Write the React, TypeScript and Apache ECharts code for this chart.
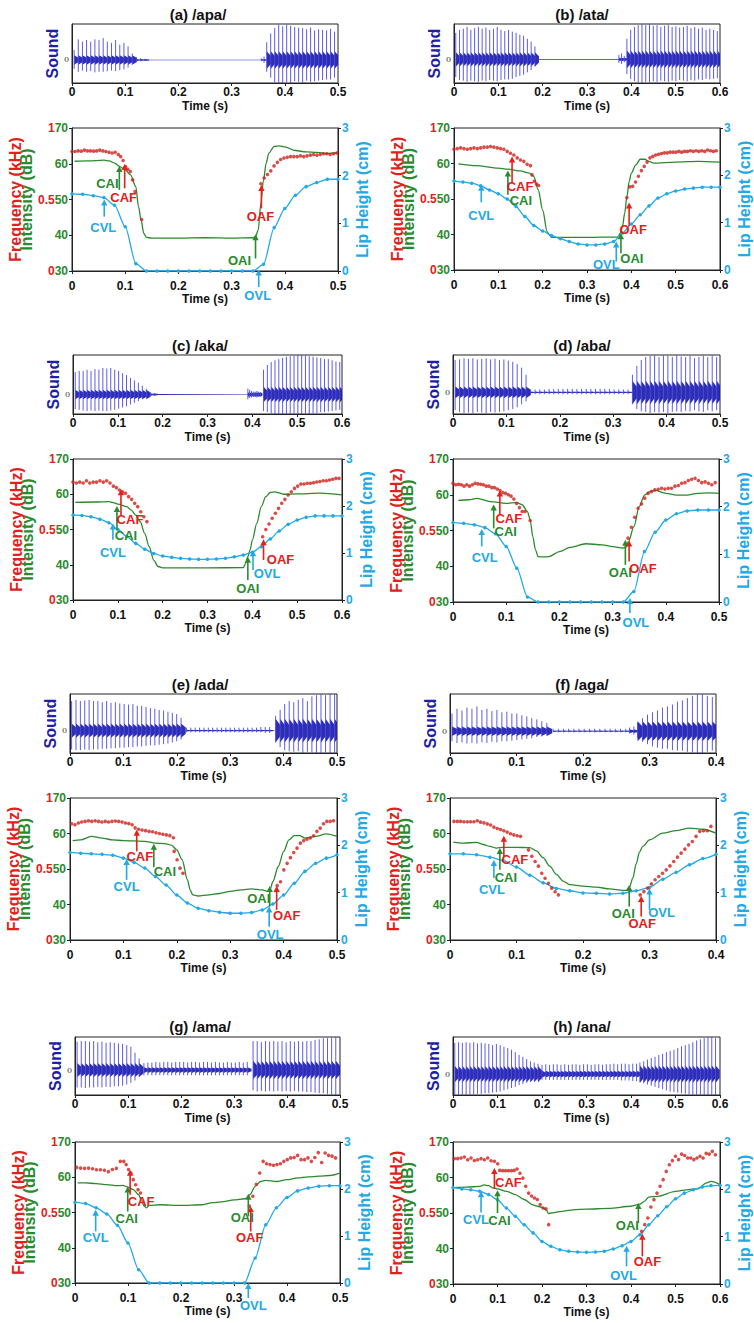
import React, { useEffect, useRef } from "react";
import * as echarts from "echarts";

type Seg = { t0: number; dt: number; v: number[] };
type Pulse = { t0: number; p: number; core: number; hi: number[]; lo: number[] };
type Ann = { n: string; ax: "i" | "f" | "l"; t: number; tip: number; tail: number };

// ---------------- DATA ----------------
const TITLES = ["(a) /apa/", "(b) /ata/", "(c) /aka/", "(d) /aba/", "(e) /ada/", "(f) /aga/", "(g) /ama/", "(h) /ana/"];
const XMAX = [0.5, 0.6, 0.6, 0.5, 0.5, 0.4, 0.5, 0.6];
const INT_TICKS = [30, 40, 50, 60, 70];
const FREQ_TICK_LABELS: Record<number, string> = { 30: "0", 50: "0.5", 70: "1" };
const LIP_TICKS = [0, 1, 2, 3];
const SND_ZERO = [0.39, 0.4, 0.33, 0.365, 0.38, 0.37, 0.43, 0.36];

// intensity (dB) curves
const A_INT = [[0.005,60.7],[0.03,60.8],[0.06,61.0],[0.07,60.8],[0.08,60.2],[0.09,59.2],[0.1,58.3],[0.11,56.9],[0.12,53.6],[0.125,48],[0.13,44.2],[0.135,40.5],[0.14,39.4],[0.15,39.2],[0.2,39.2],[0.25,39.3],[0.3,39.2],[0.34,39.3],[0.345,39.6],[0.35,41.4],[0.355,48.9],[0.36,55.5],[0.365,60.2],[0.37,63],[0.38,64.85],[0.39,65],[0.4,64.7],[0.42,63.7],[0.44,63.3],[0.46,63.2],[0.48,62.9],[0.5,63.2]];
const B_INT = [[0.01,59.9],[0.05,59.4],[0.1,58.7],[0.12,58.4],[0.15,57.9],[0.17,57.3],[0.18,56.4],[0.19,52.6],[0.2,46.9],[0.21,40.8],[0.215,39.9],[0.22,39.2],[0.3,39.2],[0.37,39.3],[0.375,40.4],[0.38,42.2],[0.385,46],[0.39,50.7],[0.395,54.9],[0.4,57.3],[0.41,59.6],[0.42,61.2],[0.43,61.2],[0.44,60.6],[0.45,60.1],[0.5,60.4],[0.55,60.6],[0.6,60.4]];
const C_INT = [[0.005,57.7],[0.05,57.8],[0.08,57.9],[0.09,57.6],[0.1,57.2],[0.12,56.5],[0.13,55.5],[0.14,54.1],[0.15,52.2],[0.16,48.9],[0.17,45.1],[0.18,41.3],[0.19,39.5],[0.2,39.1],[0.3,39.1],[0.38,39.2],[0.385,40.4],[0.39,42.3],[0.395,44.2],[0.4,47],[0.41,51.8],[0.42,56.5],[0.43,59.3],[0.44,60.5],[0.45,60.7],[0.46,60.4],[0.47,60],[0.5,60.1],[0.55,60.3],[0.6,59.8]];
const D_INT = [[0.01,58.4],[0.03,58.6],[0.045,59.0],[0.07,58.1],[0.1,57.6],[0.12,57.8],[0.13,57.2],[0.14,55.3],[0.145,53],[0.15,48.3],[0.155,44.6],[0.16,42.7],[0.17,42.6],[0.18,42.7],[0.2,44.1],[0.22,45.3],[0.25,46.3],[0.28,46],[0.3,45.5],[0.32,45.1],[0.325,45.3],[0.33,46.9],[0.34,51.1],[0.35,56.7],[0.36,59.9],[0.37,60.9],[0.38,61.2],[0.4,60.4],[0.42,59.9],[0.44,59.9],[0.46,60.4],[0.48,60.5],[0.5,60.4]];
const E_INT = [[0.005,58],[0.02,58.2],[0.04,59.2],[0.06,58.7],[0.08,58.2],[0.1,58],[0.14,57.8],[0.16,57.3],[0.18,57.1],[0.19,56.7],[0.2,55.4],[0.21,52.6],[0.22,46.9],[0.225,44.1],[0.23,42.7],[0.24,42.4],[0.26,42.7],[0.28,43.1],[0.3,43.7],[0.32,44.1],[0.34,44.4],[0.36,44.1],[0.37,43.7],[0.375,44.4],[0.38,46.5],[0.39,50.7],[0.4,54.9],[0.41,58.2],[0.42,59.4],[0.43,59.4],[0.44,58.7],[0.46,59.2],[0.48,59.9],[0.5,59.2]];
const F_INT = [[0.005,57.6],[0.02,57.3],[0.04,57.5],[0.05,56.9],[0.06,56.35],[0.07,55.9],[0.08,56.1],[0.1,56.1],[0.12,56],[0.13,55.1],[0.14,53.2],[0.15,50.8],[0.16,48.5],[0.17,46.6],[0.18,45.6],[0.2,45.2],[0.22,44.9],[0.24,44.4],[0.26,44],[0.265,44],[0.27,45.0],[0.275,47.5],[0.28,51.5],[0.285,54.8],[0.29,56.4],[0.3,58.2],[0.32,60.1],[0.34,60.8],[0.36,61.5],[0.38,61.2],[0.4,60.1]];
const G_INT = [[0.005,58.4],[0.02,58.4],[0.04,58.2],[0.06,57.9],[0.08,57.6],[0.09,57.7],[0.1,57.2],[0.11,56.5],[0.12,55.05],[0.125,53.6],[0.13,51.9],[0.135,51.3],[0.14,52],[0.16,52.2],[0.2,52],[0.24,52.2],[0.26,52.8],[0.28,53.1],[0.3,53.6],[0.32,53.9],[0.325,54.1],[0.33,55.05],[0.34,57.4],[0.35,58.8],[0.36,59.1],[0.38,58.8],[0.4,59.3],[0.42,59.8],[0.44,60.1],[0.46,60.3],[0.48,60.5],[0.5,61.2]];
const H_INT = [[0.005,57.2],[0.03,57.3],[0.06,57.5],[0.07,57.9],[0.08,57.7],[0.09,57.1],[0.1,56.8],[0.12,56.1],[0.14,55.2],[0.16,53.8],[0.18,52.3],[0.19,51.9],[0.2,51.6],[0.21,50.8],[0.215,49.8],[0.22,50],[0.24,50.4],[0.27,50.9],[0.3,51.1],[0.35,51.3],[0.4,51.9],[0.42,52.5],[0.43,53.3],[0.44,54.5],[0.46,54.7],[0.5,56.1],[0.53,56.6],[0.55,56.8],[0.57,58.5],[0.58,58.9],[0.6,58]];

// lip height (cm), sampled every 20 ms
const A_LIP: Seg = { t0: 0, dt: 0.02, v: [1.62,1.61,1.58,1.54,1.38,0.93,0.155,0,0,0,0,0,0,0,0,0,0,0,0.14,0.91,1.31,1.59,1.77,1.855,1.925,1.925] };
const B_LIP: Seg = { t0: 0, dt: 0.02, v: [1.885,1.86,1.835,1.78,1.69,1.61,1.5,1.34,1.13,0.94,0.826,0.73,0.66,0.6,0.55,0.53,0.53,0.55,0.6,0.78,0.97,1.165,1.355,1.52,1.61,1.67,1.71,1.73,1.75,1.75,1.75] };
const C_LIP: Seg = { t0: 0, dt: 0.02, v: [1.81,1.8,1.77,1.72,1.645,1.5,1.35,1.205,1.08,0.99,0.936,0.91,0.887,0.872,0.865,0.865,0.872,0.887,0.92,0.957,1.014,1.135,1.3,1.47,1.61,1.7,1.76,1.79,1.79,1.79,1.79] };
const D_LIP: Seg = { t0: 0, dt: 0.02, v: [1.67,1.65,1.62,1.56,1.43,1.165,0.71,0.105,0,0,0,0,0,0,0,0,0,0.22,1.06,1.465,1.72,1.85,1.91,1.93,1.93,1.93] };
const E_LIP: Seg = { t0: 0, dt: 0.02, v: [1.85,1.835,1.82,1.81,1.79,1.73,1.64,1.52,1.34,1.16,0.95,0.78,0.67,0.62,0.586,0.565,0.565,0.58,0.635,0.76,0.95,1.2,1.45,1.62,1.73,1.8] };
const F_LIP: Seg = { t0: 0, dt: 0.02, v: [1.82,1.82,1.8,1.75,1.68,1.54,1.37,1.21,1.09,1.04,0.995,0.988,0.974,0.988,1.04,1.11,1.285,1.43,1.59,1.72,1.81] };
const G_LIP: Seg = { t0: 0, dt: 0.02, v: [1.72,1.69,1.6,1.47,1.23,0.85,0.284,0,0,0,0,0,0,0,0,0,0,0.53,1.24,1.6,1.82,1.96,2.02,2.06,2.07,2.07] };
const H_LIP: Seg = { t0: 0, dt: 0.02, v: [2.04,2.01,1.99,1.96,1.89,1.78,1.605,1.43,1.25,1.08,0.9,0.796,0.725,0.69,0.676,0.669,0.676,0.69,0.74,0.81,0.9,1.04,1.25,1.44,1.63,1.8,1.92,1.99,2.05,2.08,2.085] };

// frequency (kHz, 0..1), pitch-period samples
const A_FREQ: Seg[] = [
  { t0: 0, dt: 0.0058, v: [0.836,0.836,0.84,0.838,0.845,0.84,0.84,0.838,0.84,0.845,0.84,0.836,0.83,0.825,0.83] },
  { t0: 0.087, dt: 0.0045, v: [0.815,0.8,0.773,0.73,0.712,0.695,0.637,0.555] },
  { t0: 0.131, dt: 0.01, v: [0.36] },
  { t0: 0.355, dt: 0.0062, v: [0.61,0.65,0.675,0.7,0.735,0.76,0.78,0.79,0.795,0.8,0.8,0.8,0.805,0.8,0.805,0.81,0.815,0.81,0.815,0.82,0.82,0.815,0.82,0.825] },
];
const B_FREQ: Seg[] = [
  { t0: 0, dt: 0.0075, v: [0.85,0.855,0.86,0.855,0.85,0.855,0.86,0.855,0.86,0.865,0.865,0.87,0.865,0.86,0.855,0.85] },
  { t0: 0.12, dt: 0.0075, v: [0.835,0.822,0.81,0.79,0.775,0.765,0.745,0.735] },
  { t0: 0.176, dt: 0.005, v: [0.67,0.625,0.605,0.595] },
  { t0: 0.39, dt: 0.0065, v: [0.51,0.585,0.59,0.62,0.66,0.7,0.73,0.76,0.79,0.8,0.81,0.815,0.82,0.825,0.825,0.83,0.83,0.83,0.835,0.83,0.835,0.835,0.84,0.835,0.84,0.835,0.84,0.835,0.845,0.84,0.835,0.84] },
];
const C_FREQ: Seg[] = [
  { t0: 0, dt: 0.0075, v: [0.836,0.83,0.836,0.83,0.846,0.83,0.836,0.836,0.846,0.836,0.846,0.83] },
  { t0: 0.09, dt: 0.0068, v: [0.808,0.797,0.78,0.768,0.757,0.733,0.714,0.686,0.662,0.626,0.59,0.556] },
  { t0: 0.423, dt: 0.0071, v: [0.449,0.5,0.539,0.58,0.615,0.65,0.686,0.714,0.745,0.768,0.792,0.808,0.823,0.823,0.828,0.828,0.832,0.837,0.84,0.846,0.846,0.851,0.856,0.863,0.863] },
];
const D_FREQ: Seg[] = [
  { t0: 0, dt: 0.0052, v: [0.83,0.82,0.823,0.82,0.81,0.82,0.81,0.82,0.83,0.826,0.823,0.82,0.81,0.81,0.8,0.8,0.79,0.78,0.765,0.76,0.75,0.74,0.72,0.69,0.66,0.633,0.633] },
  { t0: 0.145, dt: 0.01, v: [0.57] },
  { t0: 0.329, dt: 0.0063, v: [0.447,0.523,0.593,0.656,0.686,0.726,0.76,0.772,0.784,0.788,0.795,0.79,0.795,0.795,0.81,0.815,0.83,0.835,0.85,0.858,0.865,0.85,0.835,0.84,0.83,0.82,0.835] },
];
const E_FREQ: Seg[] = [
  { t0: 0.003, dt: 0.0063, v: [0.819,0.812,0.824,0.831,0.835,0.84,0.835,0.84,0.835,0.831,0.835,0.831,0.835,0.838,0.835,0.831,0.824,0.82,0.812] },
  { t0: 0.122, dt: 0.0065, v: [0.79,0.78,0.775,0.77,0.765,0.762,0.755,0.75,0.745,0.74,0.735,0.72] },
  { t0: 0.195, dt: 0.0055, v: [0.624,0.565,0.506,0.47] },
  { t0: 0.388, dt: 0.0062, v: [0.383,0.41,0.494,0.54,0.58,0.616,0.647,0.682,0.7,0.71,0.718,0.734,0.765,0.788,0.819,0.835,0.835,0.84] },
];
const F_FREQ: Seg[] = [
  { t0: 0.006, dt: 0.005, v: [0.835,0.835,0.835,0.833,0.833,0.833,0.833,0.84,0.83,0.825,0.818,0.81,0.795,0.785,0.778,0.769,0.76,0.748,0.74,0.734,0.73] },
  { t0: 0.118, dt: 0.005, v: [0.635,0.59,0.553,0.52,0.47,0.435,0.4,0.365,0.34,0.318] },
  { t0: 0.286, dt: 0.0056, v: [0.318,0.341,0.365,0.395,0.424,0.447,0.47,0.494,0.522,0.553,0.584,0.612,0.64,0.67,0.694,0.73,0.765,0.769,0.769,0.8] },
];
const G_FREQ: Seg[] = [
  { t0: 0.003, dt: 0.0075, v: [0.82,0.815,0.813,0.815,0.81,0.803,0.803,0.8,0.79,0.805,0.813,0.863] },
  { t0: 0.092, dt: 0.0045, v: [0.863,0.84,0.805,0.78,0.733,0.697,0.662,0.638] },
  { t0: 0.329, dt: 0.0065, v: [0.545,0.615,0.7,0.78,0.863,0.846,0.84,0.835,0.84,0.846,0.863,0.875,0.887,0.89,0.905,0.875,0.875,0.887,0.863,0.89,0.925,0.855,0.922,0.905,0.9,0.887] },
];
const H_FREQ: Seg[] = [
  { t0: 0.003, dt: 0.0075, v: [0.883,0.883,0.887,0.894,0.875,0.887,0.87,0.875,0.883,0.875,0.887,0.868,0.864,0.847] },
  { t0: 0.105, dt: 0.0065, v: [0.8,0.798,0.798,0.798,0.798,0.8,0.81,0.78,0.746,0.688,0.64,0.62,0.606,0.595,0.56,0.535,0.53] },
  { t0: 0.215, dt: 0.01, v: [0.418] },
  { t0: 0.424, dt: 0.0069, v: [0.371,0.418,0.465,0.542,0.594,0.64,0.688,0.735,0.793,0.84,0.869,0.9,0.876,0.915,0.905,0.887,0.887,0.876,0.887,0.9,0.887,0.92,0.915,0.934,0.91] },
];

// sound waveform: pulse trains (peak heights in box-height units around zero)
const A_SND: Pulse[] = [
  { t0: 0.004, p: 0.0078, core: 0.08, hi: [0.17,0.35,0.31,0.34,0.31,0.35,0.34,0.37,0.31,0.29,0.34,0.26,0.29,0.23,0.11], lo: [-0.15,-0.2,-0.18,-0.2,-0.19,-0.21,-0.2,-0.2,-0.19,-0.18,-0.19,-0.17,-0.16,-0.13,-0.08] },
  { t0: 0.121, p: 0.0078, core: 0.015, hi: [0.05,0.03,0.02], lo: [-0.04,-0.02,-0.01] },
  { t0: 0.144, p: 0.212, core: 0.006, hi: [0.006], lo: [-0.006] },
  { t0: 0.356, p: 0.005, core: 0.015, hi: [0.03,0.06], lo: [-0.02,-0.05] },
  { t0: 0.366, p: 0.0075, core: 0.15, hi: [0.3,0.45,0.54,0.6,0.57,0.6,0.58,0.56,0.55,0.54,0.52,0.55,0.5,0.52,0.51,0.5,0.53,0.48], lo: [-0.2,-0.3,-0.38,-0.39,-0.39,-0.38,-0.39,-0.36,-0.37,-0.39,-0.35,-0.37,-0.36,-0.35,-0.34,-0.33,-0.33,-0.3] },
];
const B_SND: Pulse[] = [
  { t0: 0.004, p: 0.0085, core: 0.12, hi: [0.45,0.5,0.52,0.55,0.5,0.53,0.55,0.52,0.54,0.5,0.52,0.55,0.5,0.48,0.5,0.47,0.45,0.42,0.4,0.35,0.3,0.22], lo: [-0.3,-0.35,-0.36,-0.38,-0.36,-0.37,-0.38,-0.36,-0.37,-0.35,-0.36,-0.37,-0.35,-0.34,-0.34,-0.33,-0.3,-0.28,-0.26,-0.22,-0.18,-0.12] },
  { t0: 0.19, p: 0.182, core: 0.006, hi: [0.01], lo: [-0.01] },
  { t0: 0.372, p: 0.006, core: 0.03, hi: [0.08,0.1,0.06], lo: [-0.06,-0.08,-0.05] },
  { t0: 0.39, p: 0.0085, core: 0.15, hi: [0.35,0.5,0.55,0.58,0.6,0.58,0.6,0.57,0.58,0.55,0.57,0.58,0.55,0.56,0.54,0.55,0.57,0.53,0.55,0.52,0.54,0.5,0.52,0.5,0.48], lo: [-0.25,-0.33,-0.37,-0.39,-0.4,-0.38,-0.39,-0.37,-0.38,-0.36,-0.37,-0.38,-0.36,-0.37,-0.35,-0.36,-0.37,-0.35,-0.36,-0.34,-0.35,-0.33,-0.34,-0.33,-0.32] },
];
const C_SND: Pulse[] = [
  { t0: 0.005, p: 0.0088, core: 0.08, hi: [0.38,0.4,0.4,0.42,0.4,0.43,0.42,0.45,0.44,0.45,0.42,0.4,0.36,0.33,0.28,0.24,0.2,0.15,0.1], lo: [-0.25,-0.26,-0.27,-0.28,-0.27,-0.28,-0.27,-0.28,-0.28,-0.27,-0.26,-0.24,-0.22,-0.2,-0.17,-0.14,-0.11,-0.08,-0.05] },
  { t0: 0.172, p: 0.0088, core: 0.02, hi: [0.04,0.02], lo: [-0.03,-0.02] },
  { t0: 0.19, p: 0.2, core: 0.008, hi: [0.01], lo: [-0.01] },
  { t0: 0.39, p: 0.004, core: 0.04, hi: [0.1,0.08,0.06,0.05,0.05,0.06,0.05,0.04], lo: [-0.08,-0.06,-0.05,-0.04,-0.04,-0.05,-0.04,-0.03] },
  { t0: 0.425, p: 0.0085, core: 0.13, hi: [0.42,0.5,0.55,0.58,0.6,0.62,0.64,0.65,0.66,0.67,0.67,0.66,0.65,0.64,0.63,0.62,0.6,0.6,0.58,0.56,0.55], lo: [-0.28,-0.3,-0.32,-0.33,-0.33,-0.33,-0.33,-0.33,-0.33,-0.33,-0.33,-0.33,-0.33,-0.32,-0.32,-0.3,-0.3,-0.29,-0.28,-0.27,-0.26] },
];
const D_SND: Pulse[] = [
  { t0: 0.004, p: 0.0083, core: 0.1, hi: [0.55,0.56,0.58,0.57,0.58,0.56,0.57,0.58,0.56,0.57,0.55,0.56,0.54,0.52,0.48,0.42,0.3], lo: [-0.3,-0.33,-0.35,-0.34,-0.35,-0.33,-0.34,-0.35,-0.33,-0.34,-0.33,-0.32,-0.3,-0.28,-0.25,-0.2,-0.15] },
  { t0: 0.145, p: 0.0087, core: 0.015, hi: [0.05,0.05,0.05,0.05,0.06,0.06,0.06,0.06,0.06,0.06,0.06,0.06,0.06,0.06,0.06,0.06,0.06,0.06,0.05,0.05,0.05,0.05], lo: [-0.03,-0.03,-0.03,-0.03,-0.03,-0.03,-0.03,-0.03,-0.03,-0.03,-0.03,-0.03,-0.03,-0.03,-0.03,-0.03,-0.03,-0.03,-0.03,-0.03,-0.03,-0.03] },
  { t0: 0.336, p: 0.0083, core: 0.2, hi: [0.3,0.45,0.55,0.6,0.62,0.63,0.6,0.63,0.62,0.6,0.63,0.61,0.6,0.62,0.58,0.6,0.62,0.6,0.63,0.6], lo: [-0.2,-0.28,-0.32,-0.33,-0.35,-0.33,-0.34,-0.33,-0.35,-0.33,-0.32,-0.33,-0.31,-0.32,-0.3,-0.32,-0.33,-0.3,-0.32,-0.3] },
];
const E_SND: Pulse[] = [
  { t0: 0.003, p: 0.0082, core: 0.12, hi: [0.5,0.52,0.5,0.51,0.52,0.5,0.5,0.48,0.5,0.47,0.48,0.46,0.45,0.44,0.45,0.42,0.42,0.4,0.38,0.37,0.35,0.34,0.32,0.3,0.28,0.22], lo: [-0.32,-0.33,-0.33,-0.32,-0.33,-0.32,-0.32,-0.31,-0.31,-0.3,-0.3,-0.29,-0.29,-0.28,-0.28,-0.27,-0.27,-0.26,-0.25,-0.25,-0.24,-0.23,-0.22,-0.2,-0.18,-0.15] },
  { t0: 0.218, p: 0.0082, core: 0.015, hi: [0.05,0.05,0.05,0.05,0.05,0.05,0.05,0.05,0.05,0.05,0.05,0.05,0.05,0.05,0.05,0.05,0.05,0.06,0.06,0.06], lo: [-0.03,-0.03,-0.03,-0.03,-0.03,-0.03,-0.03,-0.03,-0.03,-0.03,-0.03,-0.03,-0.03,-0.03,-0.03,-0.03,-0.03,-0.03,-0.04,-0.04] },
  { t0: 0.385, p: 0.0085, core: 0.2, hi: [0.25,0.35,0.45,0.5,0.48,0.52,0.55,0.5,0.58,0.6,0.62,0.6,0.62,0.62], lo: [-0.2,-0.28,-0.33,-0.35,-0.36,-0.35,-0.38,-0.36,-0.37,-0.38,-0.38,-0.37,-0.38,-0.38] },
];
const F_SND: Pulse[] = [
  { t0: 0.003, p: 0.0075, core: 0.08, hi: [0.3,0.38,0.35,0.4,0.38,0.42,0.36,0.38,0.34,0.36,0.32,0.33,0.3,0.3,0.27,0.25,0.22,0.2,0.17,0.14], lo: [-0.17,-0.2,-0.19,-0.21,-0.2,-0.21,-0.19,-0.2,-0.18,-0.19,-0.17,-0.17,-0.16,-0.15,-0.14,-0.13,-0.12,-0.1,-0.09,-0.07] },
  { t0: 0.155, p: 0.0078, core: 0.012, hi: [0.04,0.04,0.04,0.04,0.04,0.04,0.04,0.04,0.04,0.04,0.04,0.04,0.04,0.04,0.04], lo: [-0.02,-0.02,-0.02,-0.02,-0.02,-0.02,-0.02,-0.02,-0.02,-0.02,-0.02,-0.02,-0.02,-0.02,-0.02] },
  { t0: 0.27, p: 0.0065, core: 0.03, hi: [0.06,0.08], lo: [-0.04,-0.06] },
  { t0: 0.282, p: 0.0075, core: 0.17, hi: [0.15,0.22,0.28,0.32,0.35,0.4,0.42,0.45,0.5,0.52,0.56,0.6,0.63,0.63,0.6,0.58], lo: [-0.12,-0.18,-0.22,-0.26,-0.28,-0.3,-0.3,-0.32,-0.33,-0.33,-0.35,-0.36,-0.37,-0.37,-0.35,-0.33] },
];
const G_SND: Pulse[] = [
  { t0: 0.004, p: 0.0078, core: 0.12, hi: [0.49,0.5,0.5,0.49,0.5,0.48,0.49,0.47,0.48,0.47,0.46,0.45,0.43,0.4,0.3,0.2], lo: [-0.3,-0.3,-0.31,-0.3,-0.3,-0.29,-0.3,-0.29,-0.29,-0.28,-0.28,-0.27,-0.25,-0.22,-0.18,-0.12] },
  { t0: 0.13, p: 0.0075, core: 0.05, hi: [0.12,0.13,0.13,0.14,0.13,0.14,0.14,0.13,0.14,0.14,0.14,0.13,0.14,0.14,0.13,0.14,0.14,0.13,0.14,0.13,0.13,0.14,0.13,0.13,0.14,0.13,0.14], lo: [-0.09,-0.09,-0.09,-0.09,-0.09,-0.09,-0.09,-0.09,-0.09,-0.09,-0.09,-0.09,-0.09,-0.09,-0.09,-0.09,-0.09,-0.09,-0.09,-0.09,-0.09,-0.09,-0.09,-0.09,-0.09,-0.09,-0.09] },
  { t0: 0.336, p: 0.0078, core: 0.16, hi: [0.5,0.5,0.48,0.5,0.49,0.5,0.49,0.5,0.48,0.5,0.49,0.5,0.49,0.5,0.5,0.52,0.53,0.55,0.55,0.56,0.57], lo: [-0.35,-0.37,-0.36,-0.37,-0.36,-0.37,-0.36,-0.37,-0.36,-0.37,-0.36,-0.37,-0.37,-0.38,-0.38,-0.39,-0.4,-0.4,-0.41,-0.42,-0.43] },
];
const H_SND: Pulse[] = [
  { t0: 0.004, p: 0.0085, core: 0.14, hi: [0.54,0.55,0.54,0.55,0.54,0.55,0.53,0.54,0.53,0.52,0.5,0.52,0.5,0.47,0.45,0.42,0.38,0.33,0.3,0.26,0.22,0.2,0.18], lo: [-0.36,-0.36,-0.35,-0.36,-0.35,-0.35,-0.34,-0.34,-0.33,-0.33,-0.32,-0.31,-0.3,-0.28,-0.26,-0.24,-0.22,-0.19,-0.17,-0.15,-0.13,-0.12,-0.11] },
  { t0: 0.2, p: 0.0085, core: 0.06, hi: [0.16,0.17,0.16,0.17,0.17,0.16,0.17,0.16,0.17,0.17,0.16,0.17,0.17,0.16,0.17,0.17,0.16,0.17,0.17,0.18,0.17,0.18,0.18,0.17,0.18,0.18], lo: [-0.1,-0.1,-0.1,-0.1,-0.1,-0.1,-0.1,-0.1,-0.1,-0.1,-0.1,-0.1,-0.1,-0.1,-0.1,-0.1,-0.1,-0.1,-0.1,-0.1,-0.1,-0.11,-0.11,-0.11,-0.12,-0.12] },
  { t0: 0.42, p: 0.0085, core: 0.15, hi: [0.2,0.22,0.25,0.28,0.3,0.33,0.35,0.38,0.4,0.42,0.45,0.48,0.5,0.52,0.55,0.58,0.6,0.62,0.64,0.64,0.62], lo: [-0.14,-0.16,-0.18,-0.2,-0.22,-0.24,-0.26,-0.28,-0.3,-0.31,-0.32,-0.33,-0.34,-0.35,-0.36,-0.36,-0.36,-0.36,-0.36,-0.36,-0.36] },
];

// annotation arrows (tip/tail in the units of their own axis)
const A_ANN: Ann[] = [
  { n: "CAI", ax: "i", t: 0.089, tip: 59.4, tail: 52.7 },
  { n: "CAF", ax: "f", t: 0.099, tip: 0.749, tail: 0.578 },
  { n: "CVL", ax: "l", t: 0.0606, tip: 1.5, tail: 1.14 },
  { n: "OAI", ax: "i", t: 0.345, tip: 40.3, tail: 33.5 },
  { n: "OAF", ax: "f", t: 0.356, tip: 0.602, tail: 0.438 },
  { n: "OVL", ax: "l", t: 0.351, tip: 0.03, tail: -0.337 },
];
const B_ANN: Ann[] = [
  { n: "CAF", ax: "f", t: 0.131, tip: 0.8, tail: 0.61 },
  { n: "CAI", ax: "i", t: 0.1215, tip: 58.05, tail: 51.2 },
  { n: "CVL", ax: "l", t: 0.0615, tip: 1.8, tail: 1.43 },
  { n: "OVL", ax: "l", t: 0.366, tip: 0.6, tail: 0.18 },
  { n: "OAI", ax: "i", t: 0.3765, tip: 40.35, tail: 34.7 },
  { n: "OAF", ax: "f", t: 0.395, tip: 0.475, tail: 0.31 },
];
const C_ANN: Ann[] = [
  { n: "CAF", ax: "f", t: 0.107, tip: 0.785, tail: 0.603 },
  { n: "CAI", ax: "i", t: 0.098, tip: 56.7, tail: 49.9 },
  { n: "CVL", ax: "l", t: 0.089, tip: 1.63, tail: 1.28 },
  { n: "OAI", ax: "i", t: 0.39, tip: 42.3, tail: 35.7 },
  { n: "OVL", ax: "l", t: 0.4015, tip: 1.06, tail: 0.64 },
  { n: "OAF", ax: "f", t: 0.425, tip: 0.43, tail: 0.284 },
];
const D_ANN: Ann[] = [
  { n: "CAI", ax: "i", t: 0.0765, tip: 57.3, tail: 50.6 },
  { n: "CAF", ax: "f", t: 0.088, tip: 0.779, tail: 0.609 },
  { n: "CVL", ax: "l", t: 0.054, tip: 1.53, tail: 1.165 },
  { n: "OAI", ax: "i", t: 0.324, tip: 47.4, tail: 40.4 },
  { n: "OAF", ax: "f", t: 0.331, tip: 0.43, tail: 0.284 },
  { n: "OVL", ax: "l", t: 0.3325, tip: 0.084, tail: -0.23 },
];
const E_ANN: Ann[] = [
  { n: "CAF", ax: "f", t: 0.125, tip: 0.776, tail: 0.624 },
  { n: "CAI", ax: "i", t: 0.157, tip: 57.1, tail: 50.5 },
  { n: "CVL", ax: "l", t: 0.106, tip: 1.71, tail: 1.27 },
  { n: "OAI", ax: "i", t: 0.374, tip: 45.2, tail: 39.4 },
  { n: "OVL", ax: "l", t: 0.373, tip: 0.706, tail: 0.28 },
  { n: "OAF", ax: "f", t: 0.387, tip: 0.381, tail: 0.212 },
];
const F_ANN: Ann[] = [
  { n: "CAF", ax: "f", t: 0.081, tip: 0.734, tail: 0.588 },
  { n: "CAI", ax: "i", t: 0.075, tip: 55.9, tail: 49.8 },
  { n: "CVL", ax: "l", t: 0.066, tip: 1.69, tail: 1.31 },
  { n: "OAI", ax: "i", t: 0.2695, tip: 45.5, tail: 39.4 },
  { n: "OAF", ax: "f", t: 0.2875, tip: 0.31, tail: 0.165 },
  { n: "OVL", ax: "l", t: 0.3, tip: 1.09, tail: 0.635 },
];
const G_ANN: Ann[] = [
  { n: "CAI", ax: "i", t: 0.0995, tip: 57.4, tail: 50.3 },
  { n: "CAF", ax: "f", t: 0.104, tip: 0.804, tail: 0.626 },
  { n: "CVL", ax: "l", t: 0.039, tip: 1.56, tail: 1.1 },
  { n: "OAI", ax: "i", t: 0.327, tip: 55.3, tail: 48.9 },
  { n: "OAF", ax: "f", t: 0.3315, tip: 0.544, tail: 0.366 },
  { n: "OVL", ax: "l", t: 0.327, tip: 0, tail: -0.32 },
];
const H_ANN: Ann[] = [
  { n: "CVL", ax: "l", t: 0.063, tip: 1.96, tail: 1.51 },
  { n: "CAF", ax: "f", t: 0.093, tip: 0.817, tail: 0.669 },
  { n: "CAI", ax: "i", t: 0.1, tip: 56.4, tail: 50.0 },
  { n: "OAI", ax: "i", t: 0.4165, tip: 52.8, tail: 47.2 },
  { n: "OAF", ax: "f", t: 0.4255, tip: 0.354, tail: 0.195 },
  { n: "OVL", ax: "l", t: 0.39, tip: 0.81, tail: 0.373 },
];

// ---------------- LAYOUT / STYLE ----------------
const MAIN_BOX = [[72,128,266,143],[454,128,266,142],[73,459,269,141],[453,459,266,143],[70,798,267,142],[450,798,266,142],[75,1142,265,141],[453,1142,267,142]];
const SOUND_BOX = [[72,24,266,59],[454,24,266,59],[73,355,269,59],[453,355,267,59],[70,694,267,59],[450,694,266,59],[75,1037,265,58],[453,1037,267,58]];
const TITLE_POS = [[198,14],[582,14],[200,345],[582,345],[200,684],[582,684],[200,1026],[582,1026]];
const LABEL_OFFSETS: Record<string, number[]>[] = [
  { CAI: [-12,-6], CAF: [-1,9], CVL: [-1,11], OAI: [-16,2], OAF: [-1,8], OVL: [-1,8] },
  { CAF: [8,3], CAI: [13,6], CVL: [0,13], OVL: [-10,3], OAI: [11,5], OAF: [4,4] },
  { CAF: [9,5], CAI: [9,6], CVL: [0,13], OAI: [0,9], OVL: [14,4], OAF: [17,0] },
  { CAI: [12,3], CAF: [9,4], CVL: [3,11], OAI: [-5,8], OAF: [14,7], OVL: [6,10] },
  { CAF: [3,5], CAI: [11,4], CVL: [0,7], OAI: [-11,-8], OVL: [1,8], OAF: [10,6] },
  { CAF: [11,3], CAI: [6,8], CVL: [-2,12], OAI: [-6,7], OAF: [1,7], OVL: [12,3] },
  { CAI: [-1,7], CAF: [11,7], CVL: [0,6], OAI: [-6,1], OAF: [-1,6], OVL: [5,7] },
  { CVL: [-5,7], CAI: [2,7], CAF: [14,-7], OAI: [-11,3], OAF: [5,5], OVL: [-3,9] },
];

const FONT = "'Liberation Sans', Arial, Helvetica, sans-serif";
const RED = "#e3201b";
const DOT_RED = "#d0201a";
const GREEN = "#2b8a2e";
const CYAN = "#22a9e6";
const NAVY = "#1f1fa5";
const CORE = "#1c1cae";
const SPIKE = "#4a4ae0";
const AXIS = "#222";

const PANELS = [
  { snd: A_SND, freq: A_FREQ, int: A_INT, lip: A_LIP, ann: A_ANN },
  { snd: B_SND, freq: B_FREQ, int: B_INT, lip: B_LIP, ann: B_ANN },
  { snd: C_SND, freq: C_FREQ, int: C_INT, lip: C_LIP, ann: C_ANN },
  { snd: D_SND, freq: D_FREQ, int: D_INT, lip: D_LIP, ann: D_ANN },
  { snd: E_SND, freq: E_FREQ, int: E_INT, lip: E_LIP, ann: E_ANN },
  { snd: F_SND, freq: F_FREQ, int: F_INT, lip: F_LIP, ann: F_ANN },
  { snd: G_SND, freq: G_FREQ, int: G_INT, lip: G_LIP, ann: G_ANN },
  { snd: H_SND, freq: H_FREQ, int: H_INT, lip: H_LIP, ann: H_ANN },
];

function expandSegs(segs: Seg[]) {
  const out: number[][] = [];
  segs.forEach((s) => s.v.forEach((v, i) => out.push([Math.round((s.t0 + i * s.dt) * 10000) / 10000, v])));
  return out;
}
function expandPulses(segs: Pulse[]) {
  const out: number[][] = [];
  segs.forEach((s) => s.hi.forEach((h, i) => out.push([s.t0 + i * s.p, s.p, h, s.lo[i], s.core])));
  return out;
}
const fmtTime = (v: number) => String(Math.round(v * 10) / 10);

// each glottal pulse: a spike plus a decaying dense band (drawn as a sawtooth wedge)
function soundRender(params: any, api: any) {
  const t = api.value(0), p = api.value(1), hi = api.value(2), lo = api.value(3), c = api.value(4);
  const tl = api.coord([t, c]);
  const bl = api.coord([t, -c]);
  const tr = api.coord([t + p, c * 0.45]);
  const br = api.coord([t + p, -c * 0.45]);
  const s1 = api.coord([t, hi]);
  const s2 = api.coord([t, lo]);
  const minH = 0.6;
  const fix = (a: number[], b: number[]) => {
    if (b[1] - a[1] < minH) {
      const m = (a[1] + b[1]) / 2;
      return [m - minH / 2, m + minH / 2];
    }
    return [a[1], b[1]];
  };
  const L = fix(tl, bl), R = fix(tr, br);
  return {
    type: "group",
    children: [
      {
        type: "polygon",
        shape: { points: [[tl[0], L[0]], [tr[0] + 0.3, R[0]], [br[0] + 0.3, R[1]], [bl[0], L[1]]] },
        style: { fill: CORE, opacity: 0.92 },
      },
      { type: "line", shape: { x1: s1[0], y1: s1[1], x2: s2[0], y2: s2[1] }, style: { stroke: SPIKE, lineWidth: 0.9 } },
    ],
  };
}

function mkArrow(list: Ann[], color: string, offsets: Record<string, number[]>) {
  return (params: any, api: any) => {
    const a = list[params.dataIndex];
    const tip = api.coord([a.t, a.tip]);
    const tail = api.coord([a.t, a.tail]);
    const off = offsets[a.n] || [0, 8];
    const ah = 6, aw = 3.2;
    return {
      type: "group",
      children: [
        { type: "line", shape: { x1: tail[0], y1: tail[1], x2: tip[0], y2: tip[1] + ah - 1 }, style: { stroke: color, lineWidth: 1.6 } },
        { type: "polygon", shape: { points: [[tip[0], tip[1]], [tip[0] - aw, tip[1] + ah], [tip[0] + aw, tip[1] + ah]] }, style: { fill: color } },
        {
          type: "text",
          x: tail[0] + off[0],
          y: tail[1] + off[1],
          style: { text: a.n, fill: color, font: `bold 13px ${FONT}`, align: "center", verticalAlign: "middle", textAlign: "center", textVerticalAlign: "middle" },
        },
      ],
    };
  };
}

function buildOption() {
  const option: any = { animation: false, backgroundColor: "#ffffff", grid: [], xAxis: [], yAxis: [], series: [], graphic: [] };
  const tickFont = { fontFamily: FONT, fontWeight: "bold", fontSize: 12, color: "#111" };
  PANELS.forEach((P, k) => {
    const sb = SOUND_BOX[k], mb = MAIN_BOX[k];
    const z0 = SND_ZERO[k];
    option.graphic.push({
      type: "text", x: TITLE_POS[k][0], y: TITLE_POS[k][1],
      style: { text: TITLES[k], font: `bold 15px ${FONT}`, fill: "#111", align: "center", verticalAlign: "middle", textAlign: "center", textVerticalAlign: "middle" },
    });
    option.grid.push({ left: sb[0], top: sb[1], width: sb[2], height: sb[3], show: true, borderColor: AXIS, borderWidth: 1 });
    option.grid.push({ left: mb[0], top: mb[1], width: mb[2], height: mb[3], show: true, borderColor: AXIS, borderWidth: 1 });
    const xBase = (gi: number, margin: number, gap: number) => ({
      gridIndex: gi, type: "value", min: 0, max: XMAX[k], interval: 0.1,
      splitLine: { show: false },
      axisLine: { onZero: false, lineStyle: { color: AXIS, width: 1 } },
      axisTick: { show: true, length: 3, lineStyle: { color: AXIS } },
      axisLabel: { ...tickFont, margin, formatter: fmtTime },
      name: "Time (s)", nameLocation: "middle", nameGap: gap,
      nameTextStyle: { fontFamily: FONT, fontWeight: "bold", fontSize: 12, color: "#111" },
    });
    option.xAxis.push(xBase(2 * k, 3, 17));
    option.xAxis.push(xBase(2 * k + 1, 9, 22));
    // sound y
    option.yAxis.push({
      gridIndex: 2 * k, type: "value", min: -z0, max: 1 - z0, interval: z0,
      axisLine: { onZero: false, lineStyle: { color: AXIS } }, axisTick: { show: false }, splitLine: { show: false },
      axisLabel: { formatter: (v: number) => (Math.abs(v) < 1e-6 ? "0" : ""), fontSize: 8, fontFamily: "'DejaVu Serif', serif", color: "#333", margin: 3 },
      name: "Sound", nameLocation: "middle", nameRotate: 90, nameGap: 11,
      nameTextStyle: { color: NAVY, fontWeight: "bold", fontSize: 16, fontFamily: FONT },
    });
    // intensity
    option.yAxis.push({
      gridIndex: 2 * k + 1, type: "value", min: INT_TICKS[0], max: INT_TICKS[INT_TICKS.length - 1], interval: 10, position: "left",
      axisLine: { show: true, onZero: false, lineStyle: { color: AXIS } },
      axisTick: { show: true, length: 3, lineStyle: { color: AXIS } }, splitLine: { show: false },
      axisLabel: {
        margin: 4,
        formatter: (v: number) => (FREQ_TICK_LABELS[v] !== undefined ? `{r|${FREQ_TICK_LABELS[v]}}{g|${v}}` : `{g|${v}}`),
        rich: {
          r: { color: RED, fontWeight: "bold", fontSize: 12, fontFamily: FONT },
          g: { color: GREEN, fontWeight: "bold", fontSize: 12, fontFamily: FONT },
        },
      },
      name: "Intensity (dB)", nameLocation: "middle", nameRotate: 90, nameGap: 29,
      nameTextStyle: { color: GREEN, fontWeight: "bold", fontSize: 16, fontFamily: FONT },
    });
    // frequency (hidden scale, name only)
    option.yAxis.push({
      gridIndex: 2 * k + 1, type: "value", min: 0, max: 1, position: "left",
      axisLine: { show: false }, axisTick: { show: false }, axisLabel: { show: false }, splitLine: { show: false },
      name: "Frequency (kHz)", nameLocation: "middle", nameRotate: 90, nameGap: 49,
      nameTextStyle: { color: RED, fontWeight: "bold", fontSize: 16, fontFamily: FONT },
    });
    // lip height
    option.yAxis.push({
      gridIndex: 2 * k + 1, type: "value", min: LIP_TICKS[0], max: LIP_TICKS[LIP_TICKS.length - 1], interval: 1, position: "right",
      axisLine: { show: true, onZero: false, lineStyle: { color: AXIS } },
      axisTick: { show: true, length: 3, lineStyle: { color: AXIS } }, splitLine: { show: false },
      axisLabel: { color: CYAN, fontWeight: "bold", fontSize: 12, fontFamily: FONT, margin: 4 },
      name: "Lip Height (cm)", nameLocation: "middle", nameRotate: 90, nameGap: 16,
      nameTextStyle: { color: CYAN, fontWeight: "bold", fontSize: 16, fontFamily: FONT },
    });

    option.series.push({
      type: "custom", xAxisIndex: 2 * k, yAxisIndex: 4 * k, renderItem: soundRender,
      data: expandPulses(P.snd), clip: true, silent: true, z: 2,
    });
    option.series.push({
      type: "line", xAxisIndex: 2 * k + 1, yAxisIndex: 4 * k + 1, data: P.int,
      symbol: "none", showSymbol: false, smooth: 0.3, smoothMonotone: "x",
      lineStyle: { color: GREEN, width: 1.3 }, z: 3, silent: true,
    });
    option.series.push({
      type: "line", xAxisIndex: 2 * k + 1, yAxisIndex: 4 * k + 3, data: expandSegs([P.lip]),
      symbol: "circle", symbolSize: 3.5, showSymbol: true, showAllSymbol: true, smooth: 0.25, smoothMonotone: "x",
      itemStyle: { color: CYAN }, lineStyle: { color: CYAN, width: 1.3 }, z: 4, silent: true,
    });
    option.series.push({
      type: "scatter", xAxisIndex: 2 * k + 1, yAxisIndex: 4 * k + 2, data: expandSegs(P.freq),
      symbol: "circle", symbolSize: 3.6, itemStyle: { color: DOT_RED }, z: 5, silent: true,
    });
    const groups: ["i" | "f" | "l", number, string][] = [["i", 1, GREEN], ["f", 2, RED], ["l", 3, CYAN]];
    groups.forEach(([ax, off, color]) => {
      const list = P.ann.filter((a) => a.ax === ax);
      if (!list.length) return;
      option.series.push({
        type: "custom", xAxisIndex: 2 * k + 1, yAxisIndex: 4 * k + off,
        renderItem: mkArrow(list, color, LABEL_OFFSETS[k]),
        data: list.map((a) => [a.t, a.tip, a.tail]), clip: false, silent: true, z: 6,
      });
    });
  });
  return option;
}

export default function App() {
  const ref = useRef<HTMLDivElement>(null);
  useEffect(() => {
    const chart = echarts.init(ref.current!, undefined, { renderer: "svg" });
    chart.setOption(buildOption());
    return () => chart.dispose();
  }, []);
  return (
    <div
      ref={ref}
      style={{ position: "absolute", left: 0, top: 0, width: 754, height: 1323, background: "#fff" }}
    />
  );
}
